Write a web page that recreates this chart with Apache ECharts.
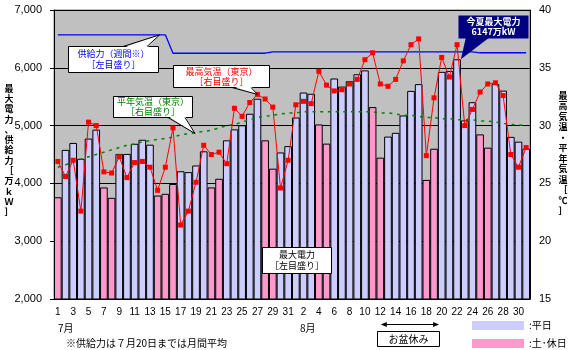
<!DOCTYPE html>
<html>
<head>
<meta charset="utf-8">
<script src="https://cdn.jsdelivr.net/npm/echarts@6/dist/echarts.min.js"></script>
<style>
  html, body { margin: 0; padding: 0; background: #ffffff; }
  #chart { width: 570px; height: 350px; }
</style>
</head>
<body>
<div id="chart"></div>
<script>
// ---- Day labels (July / August) ----
const julyDays = ['1','2','3','4','5','6','7','8','9','10','11','12','13','14','15','16','17','18','19','20','21','22','23','24','25','26','27','28','29','30','31'];
const augDays  = ['1','2','3','4','5','6','7','8','9','10','11','12','13','14','15','16','17','18','19','20','21','22','23','24','25','26','27','28','29','30','31'];

// Saturdays, Sundays and holidays (day of month)
const julyHolidays = [1, 7, 8, 14, 15, 16, 21, 22, 28, 29];
const augHolidays  = [4, 5, 11, 12, 18, 19, 25, 26];

// Daily peak demand [万kW]
const peakJuly = [3760, 4580, 4700, 4425, 4775, 4930, 3930, 3750, 4510, 4510,
                  4685, 4755, 4670, 3790, 3820, 3990, 4210, 4195, 4310, 4555,
                  3930, 4080, 4745, 4935, 5005, 5205, 5465, 4745, 4255, 4535, 4645];
const peakAug  = [5140, 5572, 5550, 5020, 4688, 5815, 5675, 5768, 5888, 5955,
                  5320, 4445, 4810, 4875, 5175, 5600, 5718, 4060, 4600, 5930,
                  5945, 6147, 5090, 5405, 4848, 4618, 5720, 5605, 4805, 4722, 4600];

// Supply capacity [万kW] (monthly average up to July 20, weekly afterwards)
const supplyJuly = [6570, 6570, 6570, 6570, 6570, 6570, 6570, 6570, 6570, 6570,
                    6570, 6570, 6570, 6570, 6570, 6252, 6252, 6252, 6252, 6252,
                    6252, 6252, 6252, 6252, 6252, 6252, 6252, 6252, 6276, 6276, 6276];
const supplyAug  = [6276, 6276, 6276, 6276, 6276, 6276, 6276, 6276, 6276, 6276,
                    6276, 6276, 6276, 6276, 6276, 6276, 6276, 6276, 6276, 6276,
                    6276, 6276, 6276, 6276, 6260, 6260, 6260, 6260, 6260, 6260, 6260];

// Daily maximum temperature, Tokyo [℃]
const tempJuly = [26.9, 25.6, 27.0, 22.6, 30.3, 30.0, 26.0, 25.9, 27.3, 25.5,
                  26.8, 26.9, 26.4, 24.4, 26.4, 29.8, 21.4, 22.6, 25.1, 28.3,
                  27.5, 27.7, 26.7, 31.5, 30.8, 32.0, 32.7, 32.3, 31.6, 24.6, 27.0];
const tempAug  = [31.8, 32.1, 31.9, 34.7, 33.5, 33.0, 33.1, 33.6, 34.0, 35.7,
                  36.3, 33.6, 33.4, 34.0, 35.6, 37.0, 37.5, 27.4, 32.4, 35.9,
                  34.2, 37.0, 30.0, 31.4, 32.9, 33.6, 33.7, 32.6, 27.5, 26.4, 28.1];

// Normal maximum temperature, Tokyo [℃]
const normalJuly = [26.4, 26.6, 26.9, 27.1, 27.3, 27.5, 27.7, 27.9, 28.1, 28.3,
                    28.4, 28.6, 28.7, 28.8, 28.9, 29.0, 29.2, 29.3, 29.4, 29.5,
                    29.6, 29.8, 30.0, 30.1, 30.3, 30.5, 30.7, 30.8, 30.9, 31.0, 31.1];
const normalAug  = [31.1, 31.2, 31.2, 31.2, 31.2, 31.2, 31.2, 31.2, 31.2, 31.2,
                    31.2, 31.1, 31.1, 31.0, 30.9, 30.9, 30.8, 30.7, 30.7, 30.6,
                    30.6, 30.5, 30.5, 30.5, 30.4, 30.4, 30.3, 30.2, 30.1, 30.05, 30.0];

// ---- Assemble the two-month series ----
const categories = julyDays.concat(augDays);
const peak = peakJuly.concat(peakAug);
const supply = supplyJuly.concat(supplyAug);
const temp = tempJuly.concat(tempAug);
const normal = normalJuly.concat(normalAug);
const isHoliday = julyDays.map(d => julyHolidays.includes(+d))
  .concat(augDays.map(d => augHolidays.includes(+d)));

const weekdayBars = peak.map((v, i) => isHoliday[i] ? '-' : v);
const holidayBars = peak.map((v, i) => isHoliday[i] ? v : '-');

const JP = '"Noto Sans CJK JP", "Noto Sans", sans-serif';
const NUM = '"Liberation Sans", Arial, sans-serif';

const chart = echarts.init(document.getElementById('chart'), null, { renderer: 'canvas' });

const option = {
  animation: false,
  textStyle: { fontFamily: JP },
  grid: {
    left: 54, right: 40, top: 10, bottom: 51,
    show: true, backgroundColor: '#c0c0c0', borderColor: '#808080', borderWidth: 1
  },
  legend: {
    data: ['平日', '土･休日'],
    orient: 'vertical',
    left: 472, top: 320,
    height: 40,
    padding: 0,
    itemWidth: 52, itemHeight: 9, itemGap: 7,
    icon: 'rect',
    itemStyle: { borderWidth: 0 },
    formatter: ':{name}',
    textStyle: { fontSize: 10, color: '#000', fontFamily: JP, lineHeight: 11 },
    selectedMode: false
  },
  xAxis: {
    type: 'category',
    data: categories,
    boundaryGap: true,
    axisLine: { lineStyle: { color: '#000', width: 1 } },
    axisTick: { show: false },
    axisLabel: { interval: 1, fontSize: 10, color: '#000', margin: 8, fontFamily: NUM },
    splitLine: { show: false }
  },
  yAxis: [
    {
      type: 'value', min: 2000, max: 7000, interval: 1000,
      axisLine: { show: true, lineStyle: { color: '#000', width: 1 } },
      axisTick: { show: true, length: 4, lineStyle: { color: '#000' } },
      axisLabel: {
        fontSize: 11, color: '#000', margin: 12, fontFamily: NUM,
        formatter: v => String(v).replace(/\B(?=(\d{3})+(?!\d))/g, ',')
      },
      splitLine: { show: true, lineStyle: { color: '#000', width: 1 } }
    },
    {
      type: 'value', min: 15, max: 40, interval: 5, position: 'right',
      axisLine: { show: true, lineStyle: { color: '#000', width: 1 } },
      axisTick: { show: true, inside: true, length: 3, lineStyle: { color: '#000' } },
      axisLabel: { fontSize: 11, color: '#000', margin: 9, fontFamily: NUM },
      splitLine: { show: false }
    }
  ],
  series: [
    {
      name: '平日', type: 'bar', data: weekdayBars,
      barGap: '-100%', barCategoryGap: '0%',
      itemStyle: { color: '#ccccff', borderColor: '#000', borderWidth: 1 },
      silent: true, z: 2
    },
    {
      name: '土･休日', type: 'bar', data: holidayBars,
      barGap: '-100%', barCategoryGap: '0%',
      itemStyle: { color: '#ff99cc', borderColor: '#000', borderWidth: 1 },
      silent: true, z: 2
    },
    {
      name: '平年気温', type: 'line', yAxisIndex: 1, data: normal,
      symbol: 'none', silent: true, z: 3,
      lineStyle: { color: '#008000', width: 1.5, type: [3, 4.7] }
    },
    {
      name: '供給力', type: 'line', yAxisIndex: 0, data: supply,
      symbol: 'none', silent: true, z: 4,
      lineStyle: { color: '#0000ff', width: 1.3 }
    },
    {
      name: '最高気温', type: 'line', yAxisIndex: 1, data: temp,
      symbol: 'rect', symbolSize: 5, silent: true, z: 5,
      itemStyle: { color: '#ff0000' },
      lineStyle: { color: '#ff0000', width: 1 }
    }
  ]
};

chart.setOption(option);

// ---- Callouts and notes ----
const onPeak = (i, v) => chart.convertToPixel({ seriesIndex: 0 }, [i, v]);
const onTemp = (i, v) => chart.convertToPixel({ seriesIndex: 4 }, [i, v]);
const onSupply = (i, v) => chart.convertToPixel({ seriesIndex: 3 }, [i, v]);
const halfBar = (onPeak(1, 0)[0] - onPeak(0, 0)[0]) / 2;

const graphics = [];

function callout(box, lines, opts) {
  const [x, y, w, h] = box;
  const fill = opts.fill || '#ffffff';
  const stroke = opts.stroke === undefined ? '#000000' : opts.stroke;
  graphics.push({
    type: 'rect', z: 100,
    shape: { x: x + 0.5, y: y + 0.5, width: w, height: h },
    style: { fill: fill, stroke: stroke, lineWidth: stroke ? 1 : 0 }
  });
  if (opts.pointer) {
    const [b1, b2, tip] = opts.pointer;
    const inset = b1[1] > y + h / 2 ? -1.5 : 1.5;
    graphics.push({
      type: 'polygon', z: 101,
      shape: { points: [[b1[0], b1[1] + inset], [b2[0], b2[1] + inset], tip] },
      style: { fill: fill }
    });
    if (stroke) {
      graphics.push({ type: 'polyline', z: 102, shape: { points: [b1, tip, b2] },
        style: { stroke: stroke, lineWidth: 1, fill: null } });
    }
  }
  graphics.push({
    type: 'text', z: 103,
    style: {
      x: x + w / 2 + 0.5, y: y + h / 2 + 0.5,
      text: lines.join('\n'),
      align: 'center', verticalAlign: 'middle',
      fill: opts.color, lineHeight: opts.lineHeight || 11,
      font: (opts.weight || 'normal') + ' ' + (opts.size || 9) + 'px ' + JP
    }
  });
}

// Supply capacity
const supplyTip = onSupply(13, supply[13]);
callout([68, 46, 90, 26], ['供給力（週間※）', '［左目盛り］'], {
  color: '#0000ff',
  pointer: [[123, 46.5], [147, 46.5], [supplyTip[0] + 2, supplyTip[1]]]
});

// Daily maximum temperature
const tempTip = onTemp(26, temp[26]);
callout([173, 65, 96, 22], ['最高気温（東京）', '［右目盛り］'], {
  color: '#ff0000', lineHeight: 10,
  pointer: [[232, 87.5], [251, 87.5], tempTip]
});

// Normal temperature
const normalTip = onTemp(18, normal[18]);
callout([113, 96, 79, 21], ['平年気温（東京）', '［右目盛り］'], {
  color: '#008000', lineHeight: 10,
  pointer: [[168, 117.5], [185, 117.5], [normalTip[0] - 1, normalTip[1] + 1]]
});

// Summer peak
const maxIdx = peak.indexOf(Math.max.apply(null, peak));
const peakTip = onPeak(maxIdx, peak[maxIdx]);
callout([458, 15, 70, 23], ['今夏最大電力', peak[maxIdx] + '万kW'], {
  color: '#ffffff', fill: '#000080', stroke: null, weight: 'bold', lineHeight: 10,
  pointer: [[466, 38.5], [490, 38.5], [peakTip[0] + halfBar, peakTip[1]]]
});

// Peak demand label
callout([262, 247, 69, 26], ['最大電力', '［左目盛り］'], { color: '#000000' });

// Axis titles (vertical writing)
graphics.push({
  type: 'text', z: 100,
  style: {
    x: 9, y: 150, text: ['最','大','電','力','、','供','給','力','［','万','ｋ','Ｗ','］'].join('\n'),
    align: 'center', verticalAlign: 'middle', lineHeight: 10.3,
    fill: '#000', font: 'bold 9px ' + JP
  }
});
graphics.push({
  type: 'text', z: 100,
  style: {
    x: 563, y: 153, text: ['最','高','気','温','・','平','年','気','温','［','℃','］'].join('\n'),
    align: 'center', verticalAlign: 'middle', lineHeight: 10.5,
    fill: '#000', font: 'bold 9px ' + JP
  }
});

// Month labels and note
graphics.push({ type: 'text', z: 100, style: { x: 58, y: 328, text: '7月', verticalAlign: 'middle', fill: '#000', font: '10px ' + JP } });
graphics.push({ type: 'text', z: 100, style: { x: 300, y: 328, text: '8月', verticalAlign: 'middle', fill: '#000', font: '10px ' + JP } });
graphics.push({ type: 'text', z: 100, style: { x: 66, y: 343, text: '※供給力は７月20日までは月間平均', verticalAlign: 'middle', fill: '#000', font: '10px ' + JP } });

// Obon holiday period
const obonL = onPeak(42, 0)[0] + 0.5;
const obonR = onPeak(49, 0)[0] + 5;
graphics.push({ type: 'line', z: 100, shape: { x1: obonL + 4, y1: 324.5, x2: obonR - 4, y2: 324.5 }, style: { stroke: '#000', lineWidth: 1 } });
graphics.push({ type: 'polygon', z: 100, shape: { points: [[obonL, 324.5], [obonL + 6, 322], [obonL + 6, 327]] }, style: { fill: '#000' } });
graphics.push({ type: 'polygon', z: 100, shape: { points: [[obonR, 324.5], [obonR - 6, 322], [obonR - 6, 327]] }, style: { fill: '#000' } });
graphics.push({
  type: 'rect', z: 100, shape: { x: 377.5, y: 331.5, width: 62, height: 15 },
  style: { fill: '#fff', stroke: '#000', lineWidth: 1 }
});
graphics.push({ type: 'text', z: 101, style: { x: 408.5, y: 339.5, text: 'お盆休み', align: 'center', verticalAlign: 'middle', fill: '#000', font: '10px ' + JP } });

chart.setOption({ graphic: { elements: graphics } });
</script>
</body>
</html>
